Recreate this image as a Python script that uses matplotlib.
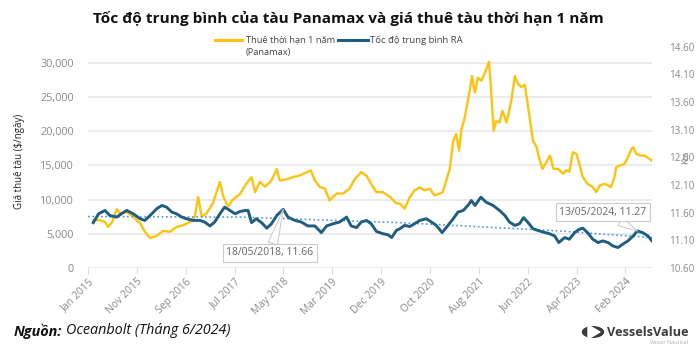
import numpy as np
import matplotlib
matplotlib.use("Agg")
from matplotlib import pyplot as plt
from matplotlib.lines import Line2D
from matplotlib.patches import Circle, Polygon

plt.rcParams['font.family'] = ['Open Sans', 'DejaVu Sans']

# 1-year time charter rate, Panamax ($/day), x as decimal year
rate_years = [2015.09, 2015.20, 2015.29, 2015.34, 2015.41, 2015.49, 2015.55, 2015.66, 2015.77, 2015.89,
              2015.97, 2016.06, 2016.17, 2016.28, 2016.40, 2016.51, 2016.62, 2016.74, 2016.82, 2016.88,
              2016.94, 2017.02, 2017.13, 2017.25, 2017.31, 2017.39, 2017.47, 2017.59, 2017.70, 2017.79,
              2017.85, 2017.93, 2018.02, 2018.13, 2018.22, 2018.27, 2018.39, 2018.50, 2018.61, 2018.73,
              2018.80, 2018.87, 2018.95, 2019.04, 2019.12, 2019.24, 2019.35, 2019.46, 2019.55, 2019.66,
              2019.75, 2019.83, 2019.92, 2020.03, 2020.15, 2020.26, 2020.32, 2020.40, 2020.49, 2020.57,
              2020.66, 2020.74, 2020.83, 2020.91, 2021.00, 2021.05, 2021.11, 2021.17, 2021.23, 2021.28,
              2021.33, 2021.37, 2021.42, 2021.51, 2021.55, 2021.60, 2021.65, 2021.71, 2021.77, 2021.84,
              2021.88, 2021.92, 2021.96, 2022.02, 2022.07, 2022.14, 2022.22, 2022.28, 2022.33, 2022.39,
              2022.45, 2022.50, 2022.59, 2022.65, 2022.70, 2022.75, 2022.82, 2022.88, 2022.94, 2023.02,
              2023.10, 2023.16, 2023.21, 2023.27, 2023.33, 2023.38, 2023.44, 2023.52, 2023.61, 2023.67,
              2023.73, 2023.81, 2023.87, 2023.92, 2023.98, 2024.01, 2024.07, 2024.15, 2024.21, 2024.27,
              2024.30, 2024.35, 2024.43, 2024.49, 2024.58, 2024.62]
rate_values = [7000, 7000, 6740, 6010, 6700, 8600, 8000, 8200, 7500, 6550,
               5300, 4400, 4700, 5440, 5300, 6000, 6250, 6740, 7470, 10380,
               7500, 8000, 9460, 12600, 10380, 9000, 10000, 10800, 12330, 13300,
               11100, 12600, 11900, 12800, 14500, 12800, 13000, 13300, 13540, 14000,
               14270, 12800, 11900, 11600, 9900, 10900, 10900, 11600, 13000, 14030,
               13500, 12300, 11100, 11100, 10400, 9460, 9420, 8700, 10380, 11360,
               11800, 11360, 11600, 10630, 10870, 11100, 12800, 14500, 18640, 19600,
               17180, 20300, 21790, 25900, 28100, 25670, 27850, 27400, 28580, 30180,
               25440, 20090, 21500, 21300, 23000, 21300, 24460, 28100, 27000, 26500,
               26800, 23980, 18640, 17700, 15970, 14500, 15500, 16450, 14500, 14500,
               13790, 14300, 14100, 16940, 16700, 15240, 13300, 12330, 11840, 11110,
               12080, 12330, 12080, 11840, 13300, 14750, 15000, 15240, 16210, 17430,
               17670, 16700, 16450, 16450, 15970, 15700]

# average RA speed (kts)
speed_years = [2015.09, 2015.18, 2015.29, 2015.37, 2015.49, 2015.57, 2015.66, 2015.77, 2015.89, 2015.97,
               2016.09, 2016.17, 2016.26, 2016.34, 2016.43, 2016.51, 2016.60, 2016.68, 2016.79, 2016.91,
               2016.99, 2017.08, 2017.16, 2017.25, 2017.33, 2017.42, 2017.51, 2017.59, 2017.68, 2017.73,
               2017.79, 2017.87, 2017.96, 2018.05, 2018.13, 2018.22, 2018.33, 2018.41, 2018.53, 2018.64,
               2018.75, 2018.87, 2018.98, 2019.07, 2019.18, 2019.29, 2019.41, 2019.49, 2019.58, 2019.66,
               2019.75, 2019.83, 2019.92, 2020.03, 2020.12, 2020.18, 2020.26, 2020.32, 2020.40, 2020.49,
               2020.57, 2020.66, 2020.77, 2020.86, 2020.94, 2021.04, 2021.14, 2021.23, 2021.31, 2021.40,
               2021.48, 2021.54, 2021.60, 2021.70, 2021.79, 2021.91, 2022.02, 2022.11, 2022.19, 2022.28,
               2022.36, 2022.43, 2022.50, 2022.59, 2022.67, 2022.76, 2022.87, 2022.96, 2023.03, 2023.13,
               2023.21, 2023.30, 2023.38, 2023.44, 2023.52, 2023.61, 2023.70, 2023.78, 2023.87, 2023.95,
               2024.04, 2024.12, 2024.21, 2024.30, 2024.37, 2024.46, 2024.55, 2024.62]
speed_values = [11.42, 11.58, 11.64, 11.55, 11.52, 11.58, 11.64, 11.58, 11.49, 11.46,
                11.58, 11.67, 11.73, 11.70, 11.61, 11.58, 11.52, 11.49, 11.46, 11.46,
                11.43, 11.36, 11.43, 11.58, 11.70, 11.64, 11.58, 11.62, 11.64, 11.64,
                11.42, 11.49, 11.42, 11.32, 11.40, 11.55, 11.66, 11.52, 11.46, 11.43,
                11.36, 11.36, 11.24, 11.36, 11.40, 11.43, 11.52, 11.36, 11.33, 11.43,
                11.46, 11.40, 11.26, 11.22, 11.20, 11.15, 11.28, 11.31, 11.37, 11.35,
                11.40, 11.46, 11.49, 11.43, 11.37, 11.24, 11.37, 11.49, 11.61, 11.64,
                11.73, 11.82, 11.73, 11.88, 11.79, 11.73, 11.64, 11.55, 11.43, 11.37,
                11.40, 11.51, 11.43, 11.31, 11.28, 11.25, 11.22, 11.18, 11.06, 11.15,
                11.12, 11.24, 11.30, 11.32, 11.24, 11.12, 11.06, 11.09, 11.06, 11.00,
                10.97, 11.03, 11.09, 11.18, 11.27, 11.24, 11.18, 11.09]

# speed trend (dotted)
trend_years = [2015.0, 2017.6, 2020.32, 2023.04, 2024.62]
trend_values = [11.53, 11.52, 11.42, 11.27, 11.15]

tick_labels = ["Jan 2015", "Nov 2015", "Sep 2016", "Jul 2017", "May 2018", "Mar 2019",
               "Dec 2019", "Oct 2020", "Aug 2021", "Jun 2022", "Apr 2023", "Feb 2024"]
left_ticks = [0, 5000, 10000, 15000, 20000, 25000, 30000]
right_ticks = [10.6, 11.1, 11.6, 12.1, 12.6, 13.1, 13.6, 14.1, 14.6]

notes = [(2018.33, 11.66, "18/05/2018, 11.66"), (2024.37, 11.27, "13/05/2024, 11.27")]

yellow = "#FFC20E"
blue = "#1F5E7E"
gray_txt = "#8a8a8a"

fig = plt.figure(figsize=(6.96, 3.48), dpi=100)
ax = fig.add_axes([88 / 696, 1 - 268 / 348, 564 / 696, 221.3 / 348])
ax2 = ax.twinx()

ax.plot(rate_years, rate_values, color=yellow, lw=1.7, solid_joinstyle='round', zorder=3)
ax2.plot(speed_years, speed_values, color=blue, lw=2.1, solid_joinstyle='round', zorder=3)
ax2.plot(trend_years, trend_values, color="#4B9BE0", lw=1.2, ls=(0, (1, 1.6)), zorder=2)

ax.set_xlim(2015.0, 2024.62)
ax.set_ylim(0, 32385)
ax2.set_ylim(10.6, 14.6)

xt = [2015 + k * 10 / 12 for k in range(len(tick_labels))]
ax.set_xticks(xt)
ax.set_xticklabels(tick_labels, rotation=45, ha='right', rotation_mode='anchor',
                   fontsize=7.5, color=gray_txt)
ax.tick_params(axis='x', length=4, color="#dddddd", pad=2)

ax.set_yticks(left_ticks)
ax.set_yticklabels(["{:,}".format(v) for v in left_ticks], fontsize=7.8, color=gray_txt)
ax.tick_params(axis='y', length=0, pad=10)
ax.grid(axis='y', color="#e6e6e6", lw=1.1)
ax.set_axisbelow(True)

ax2.set_yticks(right_ticks)
ax2.set_yticklabels(["{:.2f}".format(v) for v in right_ticks], fontsize=7.1, color=gray_txt)
ax2.tick_params(axis='y', length=0, pad=12)

for a in (ax, ax2):
    for s in a.spines.values():
        s.set_visible(False)

ax.set_ylabel("Giá thuê tàu ($/ngày)", fontsize=7, color="#222222")
ax.yaxis.set_label_coords(-0.112, 0.48)
ax2.set_ylabel("Kts", fontsize=6.5, color="#888888", rotation=90)
ax2.yaxis.set_label_coords(1.052, 0.5)

# callouts
for nx, ny, txt, tx, ty in [(notes[0][0], notes[0][1], notes[0][2], 270, 253),
                            (notes[1][0], notes[1][1], notes[1][2], 603, 212)]:
    ax2.annotate(txt, xy=(nx, ny), xycoords='data',
                 xytext=(tx / 696, 1 - ty / 348), textcoords='figure fraction',
                 ha='center', va='center', fontsize=7.5, color="#666666",
                 bbox=dict(boxstyle='square,pad=0.35', fc='white', ec='#cccccc', lw=0.8),
                 arrowprops=dict(arrowstyle='wedge,tail_width=0.9,shrink_factor=0.5', fc='white',
                                 ec='#cccccc', lw=0.8, shrinkA=0, shrinkB=0),
                 zorder=5)

# title
fig.text(0.5, 1 - 18 / 348, "Tốc độ trung bình của tàu Panamax và giá thuê tàu thời hạn 1 năm",
         ha='center', va='center', fontsize=11.1, fontweight='bold', color="#111111")

# legend (manual)
fig.add_artist(Line2D([215 / 696, 242 / 696], [1 - 40 / 348] * 2, color=yellow, lw=2.2))
fig.text(246 / 696, 1 - 40 / 348, "Thuê thời hạn 1 năm", fontsize=6.7, color="#444444", va='center')
fig.text(246 / 696, 1 - 52 / 348, "(Panamax)", fontsize=6.7, color="#444444", va='center')
fig.add_artist(Line2D([338 / 696, 368 / 696], [1 - 40 / 348] * 2, color=blue, lw=2.2))
fig.text(370 / 696, 1 - 40 / 348, "Tốc độ trung bình RA", fontsize=6.8, color="#444444", va='center')

# source footer
t1 = fig.text(14 / 696, 1 - 331 / 348, "Nguồn:", fontsize=10.4, fontweight='bold',
              style='italic', color="#111111", va='center')
fig.canvas.draw()
bb = t1.get_window_extent()
fig.text(bb.x1 / 696 + 4 / 696, 1 - 331 / 348, "Oceanbolt (Tháng 6/2024)", fontsize=10.4,
         style='italic', color="#111111", va='center')

# logo
fig.add_artist(Circle((593 / 696, 1 - 332 / 348), 10.5 / 696, transform=fig.transFigure,
                      color="#3a3a3a"))
tri = np.array([[588, 325], [600, 332], [588, 339]], dtype=float)
tri[:, 0] /= 696
tri[:, 1] = 1 - tri[:, 1] / 348
fig.add_artist(Polygon(tri, closed=True, transform=fig.transFigure, fc='white', ec='white',
                       lw=1.0, joinstyle='round'))
fig.text(607 / 696, 1 - 332 / 348, "VesselsValue", fontsize=9.2, fontweight='bold',
         color="#3d3d3d", va='center')
fig.text(688 / 696, 1 - 343 / 348, "Veson Nautical", fontsize=4, color="#aaaaaa",
         va='center', ha='right')

fig.savefig("out.png", dpi=100)
